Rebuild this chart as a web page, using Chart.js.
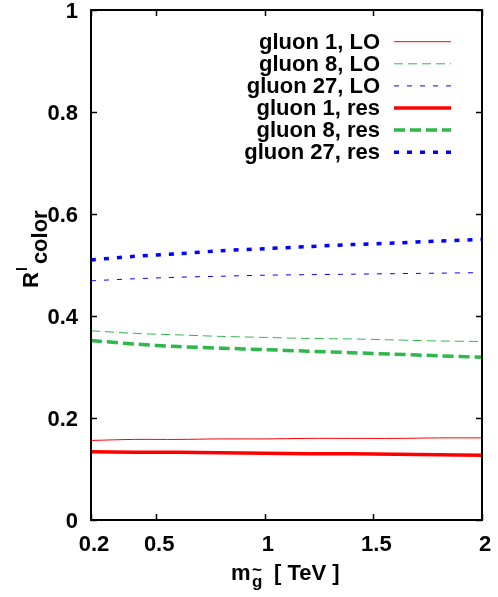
<!DOCTYPE html>
<html><head><meta charset="utf-8">
<script src="https://cdn.jsdelivr.net/npm/chart.js@4"></script>
<style>html,body{margin:0;padding:0;background:#fff}canvas{display:block}</style>
</head><body><canvas id="c" width="498" height="597"></canvas>
<script>
// ---- data ----
const massTeV = [0.2, 0.4, 0.6, 0.8, 1.0, 1.2, 1.4, 1.6, 1.8, 2.0];
const gluon1LO   = [0.156, 0.158, 0.158, 0.159, 0.159, 0.160, 0.160, 0.160, 0.161, 0.161];
const gluon8LO   = [0.371, 0.366, 0.363, 0.360, 0.358, 0.356, 0.355, 0.353, 0.351, 0.350];
const gluon27LO  = [0.469, 0.473, 0.476, 0.478, 0.480, 0.481, 0.482, 0.483, 0.484, 0.485];
const gluon1res  = [0.134, 0.133, 0.133, 0.132, 0.131, 0.130, 0.130, 0.129, 0.128, 0.127];
const gluon8res  = [0.352, 0.345, 0.340, 0.337, 0.334, 0.331, 0.328, 0.325, 0.322, 0.319];
const gluon27res = [0.510, 0.517, 0.522, 0.528, 0.532, 0.536, 0.540, 0.543, 0.547, 0.550];
const seriesLabels = ['gluon 1, LO', 'gluon 8, LO', 'gluon 27, LO', 'gluon 1, res', 'gluon 8, res', 'gluon 27, res'];
const xTicks = [0.2, 0.5, 1, 1.5, 2];
const xTickLabels = ['0.2', '0.5', '1', '1.5', '2'];
const yTicks = [0, 0.2, 0.4, 0.6, 0.8, 1];
const yTickLabels = ['0', '0.2', '0.4', '0.6', '0.8', '1'];

const RED = '#ff0000', GREEN = '#2db84c', BLUE = '#0000ff';
const FAM = '"Liberation Sans", Arial, sans-serif';
const FONT = 'bold 22px ' + FAM;

function pts(ys) { return massTeV.map((x, i) => ({ x: x, y: ys[i] })); }

const styles = [
  { borderColor: RED,   borderWidth: 1,   borderDash: [] },
  { borderColor: GREEN, borderWidth: 1,   borderDash: [9, 5] },
  { borderColor: BLUE,  borderWidth: 1,   borderDash: [5, 8] },
  { borderColor: RED,   borderWidth: 3.5, borderDash: [] },
  { borderColor: GREEN, borderWidth: 3.5, borderDash: [11, 5] },
  { borderColor: BLUE,  borderWidth: 3.5, borderDash: [5, 8] }
];
const allSeries = [gluon1LO, gluon8LO, gluon27LO, gluon1res, gluon8res, gluon27res];
const datasets = allSeries.map((s, i) => Object.assign({
  label: seriesLabels[i], data: pts(s), pointRadius: 0, fill: false, tension: 0.3,
  borderCapStyle: 'butt'
}, styles[i]));

const framePlugin = {
  id: 'frame',
  afterDraw(chart) {
    const c = chart.ctx, a = chart.chartArea, xs = chart.scales.x, ys = chart.scales.y;
    c.save();
    c.setLineDash([]);
    c.strokeStyle = '#000';
    c.lineWidth = 2;
    c.strokeRect(a.left, a.top, a.right - a.left, a.bottom - a.top);
    // inward ticks (mirrored)
    c.lineWidth = 1.5;
    c.beginPath();
    xTicks.forEach(v => {
      const p = Math.round(xs.getPixelForValue(v)) + 0.5;
      c.moveTo(p, a.bottom); c.lineTo(p, a.bottom - 6);
      c.moveTo(p, a.top); c.lineTo(p, a.top + 6);
    });
    yTicks.forEach(v => {
      const p = Math.round(ys.getPixelForValue(v)) + 0.5;
      c.moveTo(a.left, p); c.lineTo(a.left + 6, p);
      c.moveTo(a.right, p); c.lineTo(a.right - 6, p);
    });
    c.stroke();
    // tick labels
    c.fillStyle = '#000';
    c.font = FONT;
    c.textAlign = 'right'; c.textBaseline = 'alphabetic';
    yTicks.forEach((v, i) => c.fillText(yTickLabels[i], 78, ys.getPixelForValue(v) + 8));
    c.textAlign = 'center';
    xTicks.forEach((v, i) => c.fillText(xTickLabels[i], xs.getPixelForValue(v) + 3, 551));
    // legend
    chart.data.datasets.forEach((ds, i) => {
      const y = 41.7 + i * 22.1;
      c.textAlign = 'right'; c.textBaseline = 'middle';
      c.fillStyle = '#000';
      c.font = FONT;
      c.fillText(ds.label, 380, y + 1);
      c.strokeStyle = ds.borderColor; c.lineWidth = ds.borderWidth;
      c.setLineDash(ds.borderDash || []);
      c.beginPath(); c.moveTo(394, y); c.lineTo(451, y); c.stroke();
    });
    c.setLineDash([]);
    // x-axis title: m_g~ [ TeV ]
    c.textAlign = 'left'; c.textBaseline = 'alphabetic';
    c.font = FONT;
    c.fillText('m', 231, 580);
    c.font = 'bold 17px ' + FAM;
    c.fillText('g', 252, 587);
    c.fillText('~', 252, 575);
    c.font = FONT;
    c.fillText('[ TeV ]', 274, 580);
    // y-axis title: R^l_color
    c.translate(38, 288);
    c.rotate(-Math.PI / 2);
    c.font = FONT;
    c.fillText('R', 0, 0);
    const rw = c.measureText('R').width;
    c.font = 'bold 14px ' + FAM;
    c.fillText('l', rw + 1, -11);
    c.font = FONT;
    c.fillText('color', rw + 8, 9);
    c.restore();
  }
};

new Chart(document.getElementById('c').getContext('2d'), {
  type: 'line',
  data: { datasets: datasets },
  options: {
    responsive: false, devicePixelRatio: 1, animation: false,
    layout: { padding: { top: 10, right: 16, left: 0, bottom: 0 } },
    plugins: { legend: { display: false }, tooltip: { enabled: false } },
    scales: {
      x: { type: 'linear', min: 0.2, max: 2, ticks: { display: false }, grid: { display: false },
           border: { display: false }, afterFit(s) { s.height = 77; } },
      y: { min: 0, max: 1, ticks: { display: false }, grid: { display: false },
           border: { display: false }, afterFit(s) { s.width = 91; } }
    }
  },
  plugins: [framePlugin]
});
</script>
</body></html>
